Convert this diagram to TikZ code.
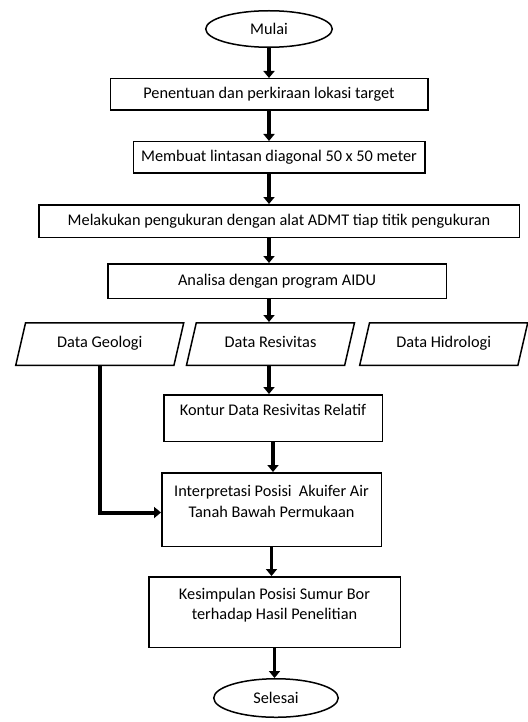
\documentclass[tikz,border=0pt]{standalone}
\usepackage{fontspec}
\setmainfont{Carlito}
\usepackage{tikz}
\usetikzlibrary{shapes.geometric, arrows.meta, positioning}
\tikzstyle{block} = [rectangle, draw=black, line width=1.5pt, align=center, inner sep=2pt, font=\fontsize{16.3}{20.5}\selectfont]
\tikzstyle{term} = [ellipse, draw=black, line width=1.5pt, inner sep=0pt, font=\fontsize{16.3}{20.5}\selectfont]
\tikzstyle{data} = [trapezium, trapezium left angle=77, trapezium right angle=103, trapezium stretches body, draw=black, line width=1.5pt, minimum width=168pt, inner xsep=2pt, inner ysep=13.5pt, text height=11.5pt, text depth=4pt, font=\fontsize{16.3}{20.5}\selectfont]
\tikzstyle{arrow} = [line width=3.5pt, -{Triangle[length=7pt, width=11pt]}]

\begin{document}
\begin{tikzpicture}[x=1pt, y=-1pt, node distance=30pt]
  \useasboundingbox (0,0) rectangle (527,722);
  \node[term, minimum width=126.5pt, minimum height=36.5pt] (mulai) at (269,29) {Mulai};
  \node[block, minimum width=317.5pt, minimum height=31.5pt, below=of mulai] (tentu) {Penentuan dan perkiraan lokasi target};
  \node[block, minimum width=291.5pt, minimum height=31.5pt, below=of tentu, xshift=10pt] (lintas) {Membuat lintasan diagonal 50 x 50 meter};
  \node[block, minimum width=480.5pt, minimum height=32.5pt, below=of lintas] (ukur) {Melakukan pengukuran dengan alat ADMT tiap titik pengukuran};
  \node[block, minimum width=338.5pt, minimum height=34.5pt, below=25pt of ukur, xshift=-2pt] (analisa) {Analisa dengan program AIDU};
  \node[data, below=23pt of analisa, xshift=-6.5pt] (res) {Data Resivitas};
  \node[data, left=11pt of res] (geo) {Data Geologi};
  \node[data, right=13.5pt of res] (hid) {Data Hidrologi};
  \node[block, minimum width=218.5pt, minimum height=46.5pt, text depth=16pt, below=28pt of res, xshift=2.5pt] (kontur) {Kontur Data Resivitas Relatif};
  \node[block, minimum width=219.5pt, minimum height=73.5pt, text depth=16pt, below=of kontur, xshift=-1.5pt] (interp) {Interpretasi Posisi\ \ Akuifer Air\\Tanah Bawah Permukaan};
  \node[block, minimum width=251.5pt, minimum height=70.5pt, text depth=16pt, below=29pt of interp, xshift=3pt] (simpul) {Kesimpulan Posisi Sumur Bor\\terhadap Hasil Penelitian};
  \node[term, minimum width=124.5pt, minimum height=38.5pt, below=of simpul, xshift=1.5pt] (selesai) {Selesai};

  \draw[arrow] (mulai) -- (tentu.north -| mulai);
  \draw[arrow] (tentu.south -| mulai) -- (lintas.north -| mulai);
  \draw[arrow] (lintas.south -| mulai) -- (ukur.north -| mulai);
  \draw[arrow] (ukur.south -| mulai) -- (analisa.north -| mulai);
  \draw[arrow] (analisa.south -| mulai) -- (res.north -| mulai);
  \draw[arrow] (res.south -| mulai) -- (kontur.north -| mulai);
  \draw[arrow] (kontur) -- (kontur |- interp.north);
  \draw[arrow] (interp) -- (interp |- simpul.north);
  \draw[arrow] (simpul) -- (simpul |- selesai.north);
  \draw[arrow, line width=4pt] (geo) |- ([yshift=-3pt]interp.west);
\end{tikzpicture}
\end{document}
